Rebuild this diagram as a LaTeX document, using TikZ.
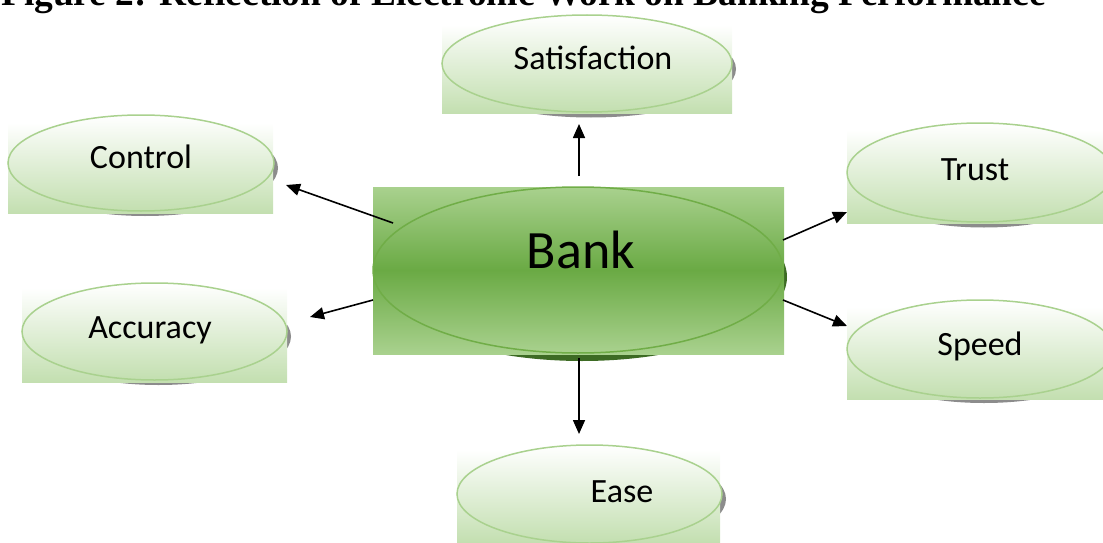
\documentclass[tikz,border=0pt]{standalone}
\usepackage{fontspec}
\setmainfont{Carlito}
\newfontfamily\titlefont{Liberation Serif}
\usetikzlibrary{shapes.geometric,arrows.meta}
\definecolor{lgreen}{HTML}{C3DFB0}
\definecolor{egreen}{HTML}{A9D18E}
\definecolor{mgreen}{HTML}{6AAA44}
\definecolor{bgreen}{HTML}{70AD47}
\definecolor{dgreen}{HTML}{3D6B24}
\definecolor{shgray}{HTML}{8C8C8C}
\tikzset{
  sat/.style={ellipse, draw=egreen, line width=1.5, top color=white, bottom color=lgreen, inner sep=0},
  bankell/.style={ellipse, draw=bgreen, line width=1.5, top color=egreen, bottom color=egreen, middle color=mgreen, inner sep=0},
  lbl/.style={anchor=base, inner sep=0, font=\fontsize{34}{38}\selectfont},
  arr/.style={line width=1.6, -{Triangle[length=14,width=12]}},
}
\begin{document}
\begin{tikzpicture}[x=1pt,y=-1pt]
\useasboundingbox (0,0) rectangle (1103,543);
\begin{scope}
\clip (0,0) rectangle (1103,543);
% title
\node[anchor=base west, inner sep=0, font=\titlefont\bfseries\fontsize{37.4}{40}\selectfont] (title) at (1,6) {Figure 2: Reflection of Electronic Work on Banking Performance};

% Satisfaction
\fill[shgray] (591,69) ellipse [x radius=145, y radius=48.5];
\shade[top color=white, bottom color=lgreen] (442,25) rectangle (732,113);
\node[sat, minimum width=290, minimum height=97] (satisfaction) at (587,63.5) {};
\node[lbl] (tsat) at (593,70) {Satisfaction};

% Control
\fill[shgray] (145,168) ellipse [x radius=133, y radius=48];
\shade[top color=white, bottom color=lgreen] (8,123) rectangle (273,213);
\node[sat, minimum width=266, minimum height=96] (control) at (141,163) {};
\node[lbl] (tcontrol) at (141,168) {Control};

% Trust
\fill[shgray] (984,178) ellipse [x radius=133, y radius=49.5];
\shade[top color=white, bottom color=lgreen] (847,130) rectangle (1103,223);
\node[sat, minimum width=266, minimum height=99] (trust) at (980,172.5) {};
\node[lbl] (ttrust) at (975,180) {Trust};

% Accuracy
\fill[shgray] (158.5,336.5) ellipse [x radius=132.5, y radius=48.5];
\shade[top color=white, bottom color=lgreen] (22,288) rectangle (287,382);
\node[sat, minimum width=265, minimum height=97] (accuracy) at (154.5,331.5) {};
\node[lbl] (taccuracy) at (150,338) {Accuracy};

% Speed
\fill[shgray] (984,354) ellipse [x radius=133, y radius=49];
\shade[top color=white, bottom color=lgreen] (847,307) rectangle (1103,399);
\node[sat, minimum width=266, minimum height=98] (speed) at (980,349) {};
\node[lbl] (tspeed) at (980,355) {Speed};

% Ease
\fill[shgray] (593.5,499) ellipse [x radius=132.5, y radius=49];
\shade[top color=white, bottom color=lgreen] (457,450) rectangle (720,543);
\node[sat, minimum width=265, minimum height=98] (ease) at (589.5,494) {};
\node[lbl] (tease) at (622,502) {Ease};

% Bank
\fill[dgreen] (582,277) ellipse [x radius=205, y radius=84];
\shade[top color=egreen, bottom color=egreen, middle color=mgreen] (373,187) rectangle (784,354);
\node[bankell, minimum width=410, minimum height=166] (bank) at (578,270) {};
\node[anchor=base, inner sep=0, font=\fontsize{54}{60}\selectfont] (tbank) at (581,268) {Bank};

% arrows
\coordinate (bup) at (579,176);
\coordinate (sup) at (579,124);
\coordinate (bdown) at (579,358);
\coordinate (edown) at (579,434);
\coordinate (bctl) at (393,223);
\coordinate (cctl) at (286,185);
\coordinate (bacc) at (373,300);
\coordinate (aacc) at (310,317);
\coordinate (btr) at (783,240);
\coordinate (ttr) at (847,212);
\coordinate (bsp) at (783,300);
\coordinate (ssp) at (847,326);
\draw[arr] (bup) -- (sup);
\draw[arr] (bdown) -- (edown);
\draw[arr] (bctl) -- (cctl);
\draw[arr] (bacc) -- (aacc);
\draw[arr] (btr) -- (ttr);
\draw[arr] (bsp) -- (ssp);
\end{scope}
\end{tikzpicture}
\end{document}
